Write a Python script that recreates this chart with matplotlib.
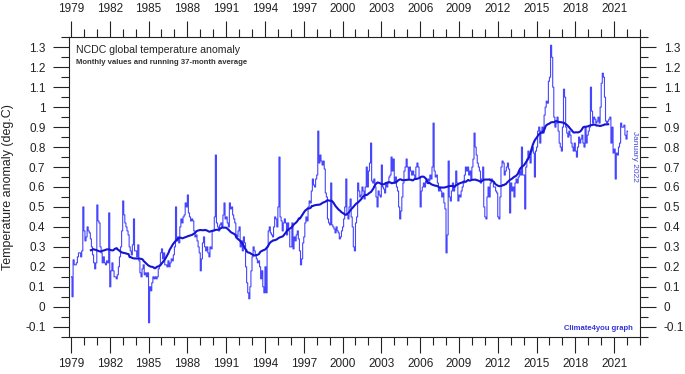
import numpy as np
import pandas as pd
import matplotlib
matplotlib.use("Agg")
import matplotlib.pyplot as plt
from matplotlib.ticker import MultipleLocator, FixedLocator

plt.rcParams['font.family'] = ['Liberation Sans', 'DejaVu Sans']

start_year = 1979

vals_1979_1988 = [
    0.15, 0.05, 0.235, 0.21, 0.21, 0.22, 0.25, 0.27, 0.27, 0.25, 0.28, 0.50,
    0.38, 0.33, 0.35, 0.40, 0.38, 0.37, 0.34, 0.30, 0.26, 0.22, 0.19, 0.22,
    0.51, 0.43, 0.42, 0.30, 0.27, 0.22, 0.25, 0.22, 0.21, 0.23, 0.22, 0.47,
    0.10, 0.18, 0.22, 0.18, 0.15, 0.15, 0.14, 0.16, 0.20, 0.25, 0.30, 0.38,
    0.53, 0.46, 0.42, 0.40, 0.38, 0.36, 0.30, 0.28, 0.26, 0.31, 0.44, 0.28,
    0.28, 0.25, 0.31, 0.23, 0.17, 0.15, 0.19, 0.21, 0.16, 0.17, 0.15, 0.17,
    -0.08, 0.10, 0.08, 0.12, 0.15, 0.14, 0.15, 0.14, 0.15, 0.19, 0.21, 0.27,
    0.29, 0.24, 0.27, 0.21, 0.21, 0.20, 0.23, 0.20, 0.22, 0.24, 0.23, 0.26,
    0.30, 0.50, 0.33, 0.35, 0.32, 0.40, 0.44, 0.42, 0.45, 0.46, 0.52, 0.50,
    0.56, 0.47, 0.45, 0.43, 0.44, 0.43, 0.38, 0.35, 0.36, 0.33, 0.30, 0.27,
]
vals_1989_1998 = [
    0.18, 0.24, 0.32, 0.35, 0.30, 0.28, 0.30, 0.27, 0.25, 0.30, 0.29, 0.38,
    0.38, 0.45, 0.76, 0.42, 0.40, 0.38, 0.41, 0.42, 0.40, 0.46, 0.52, 0.44,
    0.45, 0.42, 0.40, 0.52, 0.49, 0.50, 0.46, 0.44, 0.42, 0.36, 0.35, 0.38,
    0.40, 0.30, 0.33, 0.28, 0.35, 0.32, 0.20, 0.12, 0.07, 0.04, 0.10, 0.18,
    0.25, 0.30, 0.28, 0.26, 0.24, 0.22, 0.23, 0.20, 0.14, 0.18, 0.10, 0.07,
    0.20, 0.07, 0.30, 0.38, 0.40, 0.37, 0.36, 0.35, 0.40, 0.45, 0.44, 0.40,
    0.50, 0.75, 0.45, 0.43, 0.38, 0.42, 0.44, 0.42, 0.36, 0.42, 0.38, 0.30,
    0.30, 0.42, 0.29, 0.35, 0.33, 0.36, 0.38, 0.34, 0.28, 0.21, 0.24, 0.32,
    0.35, 0.42, 0.45, 0.43, 0.50, 0.53, 0.52, 0.58, 0.64, 0.61, 0.60, 0.64,
    0.66, 0.88, 0.72, 0.76, 0.73, 0.71, 0.73, 0.69, 0.57, 0.55, 0.44, 0.42,
]
vals_1999_2008 = [
    0.41, 0.62, 0.41, 0.40, 0.39, 0.37, 0.40, 0.38, 0.37, 0.34, 0.35, 0.38,
    0.40, 0.44, 0.50, 0.64, 0.46, 0.44, 0.50, 0.54, 0.45, 0.40, 0.30, 0.28,
    0.42, 0.45, 0.62, 0.58, 0.55, 0.56, 0.60, 0.58, 0.54, 0.60, 0.70, 0.60,
    0.68, 0.72, 0.82, 0.63, 0.62, 0.64, 0.60, 0.55, 0.50, 0.58, 0.56, 0.55,
    0.71, 0.60, 0.59, 0.57, 0.62, 0.60, 0.62, 0.65, 0.66, 0.75, 0.68, 0.74,
    0.62, 0.65, 0.60, 0.58, 0.50, 0.44, 0.48, 0.55, 0.62, 0.68, 0.70, 0.74,
    0.70, 0.64, 0.70, 0.68, 0.66, 0.68, 0.66, 0.64, 0.70, 0.72, 0.70, 0.65,
    0.50, 0.58, 0.60, 0.62, 0.60, 0.63, 0.62, 0.64, 0.63, 0.66, 0.64, 0.70,
    0.92, 0.68, 0.65, 0.66, 0.62, 0.58, 0.60, 0.58, 0.55, 0.57, 0.52, 0.49,
    0.27, 0.36, 0.73, 0.55, 0.53, 0.58, 0.62, 0.58, 0.60, 0.68, 0.62, 0.53,
]
vals_2009_2018 = [
    0.56, 0.55, 0.58, 0.60, 0.62, 0.66, 0.70, 0.68, 0.70, 0.66, 0.68, 0.64,
    0.70, 0.74, 0.87, 0.80, 0.76, 0.72, 0.70, 0.68, 0.62, 0.64, 0.70, 0.50,
    0.45, 0.44, 0.55, 0.60, 0.55, 0.62, 0.64, 0.63, 0.60, 0.60, 0.58, 0.57,
    0.45, 0.44, 0.55, 0.70, 0.73, 0.72, 0.66, 0.68, 0.70, 0.72, 0.69, 0.47,
    0.62, 0.58, 0.60, 0.55, 0.62, 0.64, 0.62, 0.65, 0.68, 0.66, 0.80, 0.66,
    0.66, 0.49, 0.70, 0.74, 0.78, 0.75, 0.72, 0.78, 0.80, 0.77, 0.65, 0.78,
    0.80, 0.88, 0.90, 0.82, 0.88, 0.90, 0.87, 0.96, 1.00, 1.03, 1.02, 1.13,
    1.15, 1.31, 1.25, 1.10, 0.95, 0.90, 0.92, 0.95, 0.88, 0.82, 0.80, 0.78,
    0.90, 1.09, 1.05, 0.90, 0.87, 0.85, 0.88, 0.86, 0.82, 0.80, 0.78, 0.82,
    0.78, 0.75, 0.80, 0.85, 0.82, 0.84, 0.86, 0.82, 0.80, 0.90, 0.82, 0.86,
]
vals_2019_2022 = [
    0.88, 0.90, 1.10, 0.98, 0.92, 0.95, 0.94, 0.92, 0.93, 0.95, 0.92, 1.00,
    1.12, 1.17, 1.15, 1.05, 0.93, 0.92, 0.93, 0.94, 0.95, 0.82, 0.90, 0.77,
    0.79, 0.64, 0.77, 0.76, 0.80, 0.82, 0.92, 0.90, 0.90, 0.91, 0.86, 0.84,
    0.88,
]

year_ticks = list(range(1979, 2022, 3))
y_ticks = [round(v, 1) for v in np.arange(-0.1, 1.31, 0.1)]

monthly = np.array(vals_1979_1988 + vals_1989_1998 + vals_1999_2008
                   + vals_2009_2018 + vals_2019_2022)
t = start_year + (np.arange(len(monthly)) + 0.5) / 12.0
running = pd.Series(monthly).rolling(37, center=True).mean().to_numpy()

fig = plt.figure(figsize=(6.85, 3.74), dpi=100)
ax = fig.add_axes([69 / 685, 1 - 336.7 / 374, (640 - 69) / 685, 300 / 374])

ax.plot(t, monthly, drawstyle='steps-mid', color='#4646ff', lw=0.8)
ax.plot(t, running, color='#1414d2', lw=1.5)

ax.set_xlim(1978.85, 2023.0)
ax.set_ylim(-0.15, 1.353)

ax.xaxis.set_major_locator(FixedLocator(year_ticks))
ax.xaxis.set_minor_locator(MultipleLocator(1))
ax.yaxis.set_major_locator(FixedLocator(y_ticks))
ax.yaxis.set_minor_locator(MultipleLocator(0.05))
ax.set_yticklabels(['0' if v == 0 else ('%g' % v) for v in y_ticks])

ax.tick_params(which='both', direction='out', top=True, right=True,
               labeltop=True, labelright=True, width=0.8, color='#222222',
               labelsize=8.5, labelcolor='#222222')
ax.tick_params(which='major', length=11.5)
ax.tick_params(which='minor', length=5.8)
ax.tick_params(axis='y', which='major', pad=5.5)
ax.tick_params(axis='x', which='major', pad=4)

for s in ax.spines.values():
    s.set_linewidth(0.8)
    s.set_color('#222222')

ax.set_ylabel('Temperature anomaly (deg.C)', fontsize=9, color='#222222',
              labelpad=8)

ax.text(0.013, 0.955, 'NCDC global temperature anomaly', transform=ax.transAxes,
        fontsize=7.6, color='#222222', va='center', ha='left')
ax.text(0.013, 0.915, 'Monthly values and running 37-month average',
        transform=ax.transAxes, fontsize=5.6, fontweight='bold',
        color='#333333', va='center', ha='left')
ax.text(0.988, 0.027, 'Climate4you graph', transform=ax.transAxes,
        fontsize=5.5, fontweight='bold', color='#3333dd', va='center',
        ha='right')
ax.text(0.9895, 0.6, 'January 2022', transform=ax.transAxes, fontsize=6,
        color='#4444dd', rotation=-90, va='center', ha='center')

fig.savefig('out.png', dpi=100)
